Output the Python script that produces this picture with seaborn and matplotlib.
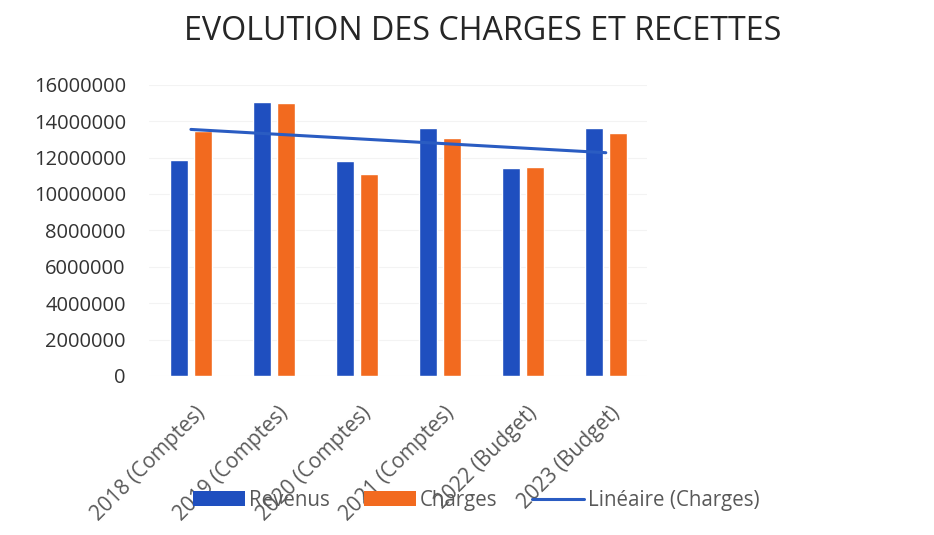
import numpy as np
import pandas as pd
import seaborn as sns
import matplotlib.pyplot as plt
from matplotlib.patches import Patch
from matplotlib.lines import Line2D
from matplotlib.ticker import FuncFormatter, MultipleLocator
import matplotlib.transforms as mtransforms

# Values
years = ['2018 (Comptes)', '2019 (Comptes)', '2020 (Comptes)',
         '2021 (Comptes)', '2022 (Budget)', '2023 (Budget)']
revenus = [11870000, 15070000, 11830000, 13640000, 11450000, 13640000]
charges = [13460000, 14980000, 11080000, 13080000, 11480000, 13370000]

series_names = ['Revenus', 'Charges']
blue = '#1f4fbf'
orange = '#f26a1f'
trend_blue = '#2a5cc2'

df = pd.DataFrame({
    'Année': years * 2,
    'Montant': revenus + charges,
    'Série': [series_names[0]] * len(years) + [series_names[1]] * len(years),
})

sns.set_theme(style='white')
plt.rcParams['font.family'] = ['Open Sans', 'DejaVu Sans']

fig = plt.figure(figsize=(9.34, 5.35), dpi=100)
ax = fig.add_axes([0.160, 0.2972, 0.533, 0.5443])

sns.barplot(data=df, x='Année', y='Montant', hue='Série', order=years,
            hue_order=series_names, palette=[blue, orange], saturation=1,
            width=0.568, gap=0.236, legend=False, ax=ax, zorder=2)

# linear trend of the charges
xs = np.arange(len(years))
coef = np.polyfit(xs, charges, 1)
sns.lineplot(x=xs, y=np.polyval(coef, xs), color=trend_blue, linewidth=2.2,
             ax=ax, zorder=3)

ax.set_ylim(0, 16000000)
ax.set_xlim(-0.5, len(years) - 0.5)
ax.yaxis.set_major_locator(MultipleLocator(2000000))
ax.yaxis.set_major_formatter(FuncFormatter(lambda v, p: f'{v:.0f}'))
ax.grid(axis='y', color='#f3f3f3', linewidth=0.8, zorder=0)
ax.set_axisbelow(True)
for s in ax.spines.values():
    s.set_visible(False)
ax.set_xlabel('')
ax.set_ylabel('')

ax.tick_params(axis='y', length=0, pad=17, labelsize=14.5, labelcolor='#333333')
ax.tick_params(axis='x', length=0, pad=19, labelsize=15, labelcolor='#595959')
offset = mtransforms.ScaledTranslation(4 / 100, 0, fig.dpi_scale_trans)
for lab in ax.get_xticklabels():
    lab.set_rotation(45)
    lab.set_ha('right')
    lab.set_va('top')
    lab.set_rotation_mode('anchor')
    lab.set_transform(lab.get_transform() + offset)

fig.text(0.5165, 0.925, 'EVOLUTION DES CHARGES ET RECETTES', ha='center',
         va='baseline', fontsize=23.2, color='#262626')

handles = [Patch(facecolor=blue, edgecolor='none'),
           Patch(facecolor=orange, edgecolor='none'),
           Line2D([0], [0], color=trend_blue, linewidth=2.2)]
labels = ['Revenus', 'Charges', 'Linéaire (Charges)']
leg = fig.legend(handles, labels, loc='center', bbox_to_anchor=(0.51, 0.065),
                 ncol=3, frameon=False, fontsize=14.8, handlelength=2.5,
                 handleheight=0.68, handletextpad=0.2, columnspacing=1.7,
                 borderpad=0)
for t in leg.get_texts():
    t.set_color('#595959')

fig.savefig('out.png', dpi=100, facecolor='white')
